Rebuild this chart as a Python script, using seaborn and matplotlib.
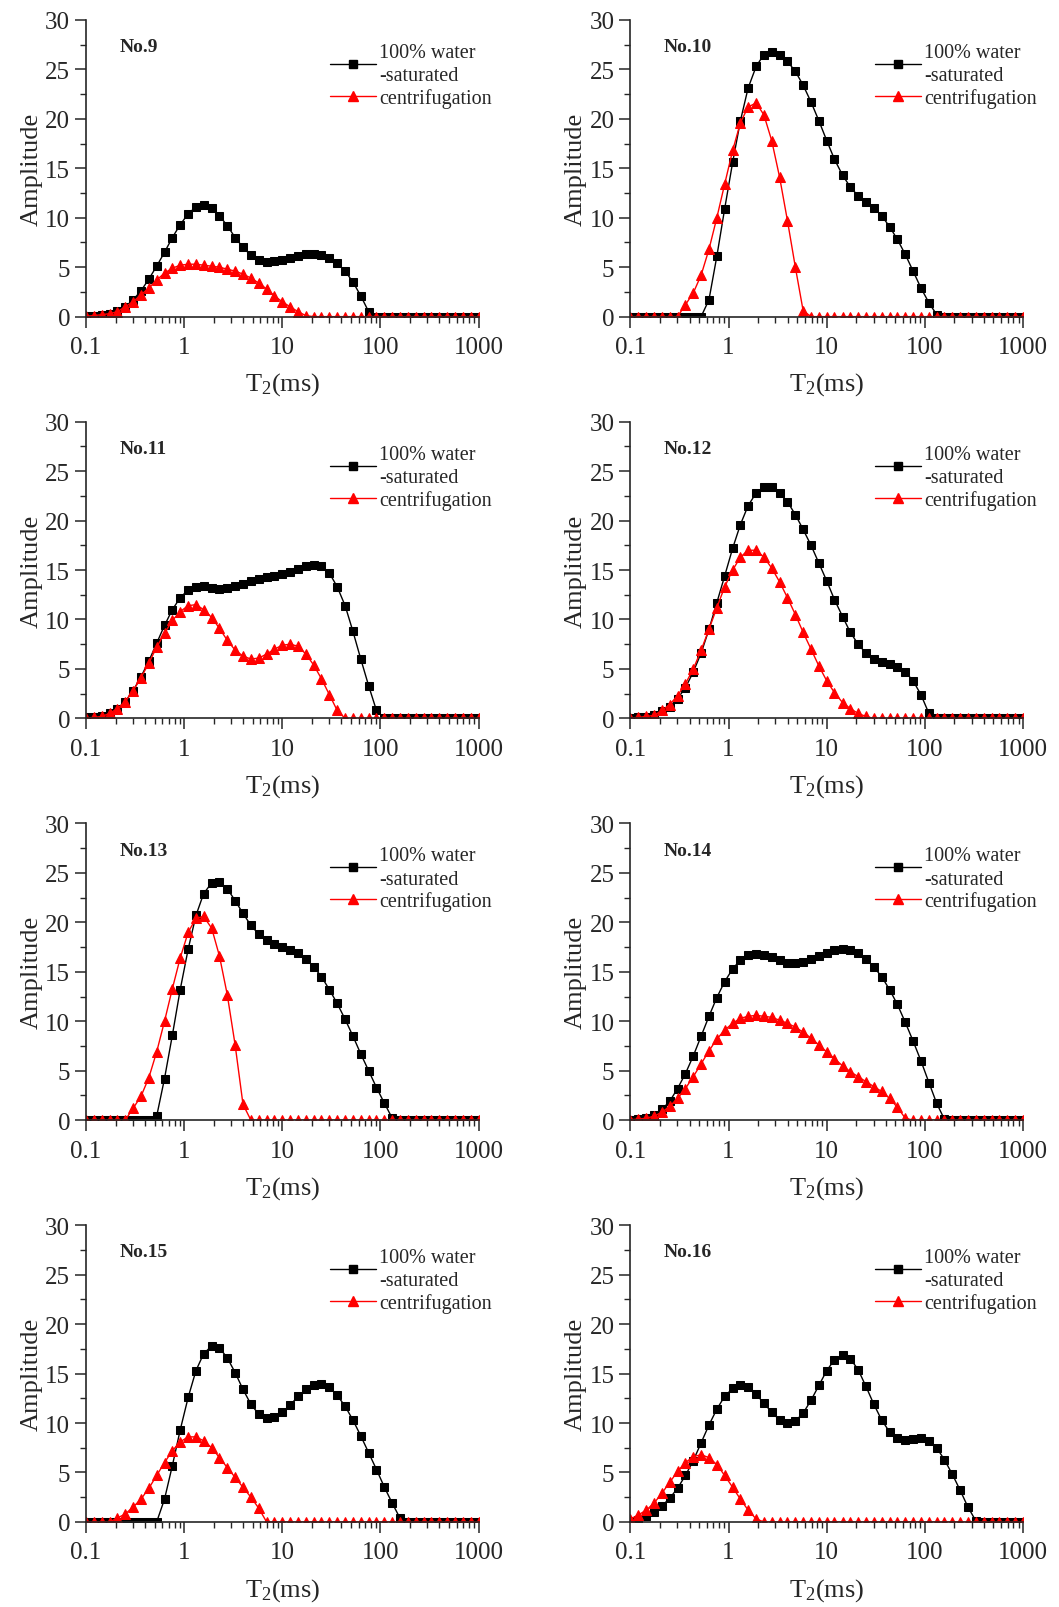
import numpy as np
import pandas as pd
import matplotlib
matplotlib.use("Agg")
import matplotlib.pyplot as plt
import matplotlib.ticker as mticker
from matplotlib.lines import Line2D
import seaborn as sns

# T2 relaxation bins (ms)
T2 = [0.1, 0.120, 0.145, 0.174, 0.209, 0.251, 0.302, 0.363, 0.437, 0.525,
      0.631, 0.759, 0.912, 1.10, 1.32, 1.58, 1.91, 2.29, 2.75, 3.31,
      3.98, 4.79, 5.75, 6.92, 8.32, 10.0, 12.0, 14.5, 17.4, 20.9,
      25.1, 30.2, 36.3, 43.7, 52.5, 63.1, 75.9, 91.2, 110, 132,
      158, 191, 229, 275, 331, 398, 479, 575, 692, 832,
      1000]

SAMPLES = ["No.9", "No.10", "No.11", "No.12", "No.13", "No.14", "No.15", "No.16"]

water_9 = [0.1, 0.1, 0.2, 0.3, 0.6, 1.0, 1.7, 2.6, 3.8, 5.1,
           6.5, 8.0, 9.3, 10.4, 11.1, 11.3, 11.0, 10.2, 9.2, 8.0,
           7.0, 6.2, 5.7, 5.5, 5.6, 5.7, 5.9, 6.1, 6.3, 6.3,
           6.2, 5.9, 5.4, 4.6, 3.5, 2.1, 0.5, 0, 0, 0,
           0, 0, 0, 0, 0, 0, 0, 0, 0, 0,
           0]
centri_9 = [0.05, 0.1, 0.2, 0.3, 0.5, 1.0, 1.5, 2.2, 2.9, 3.7,
            4.4, 4.9, 5.2, 5.3, 5.3, 5.2, 5.1, 5.0, 4.8, 4.6,
            4.3, 3.9, 3.4, 2.8, 2.1, 1.5, 1.0, 0.5, 0.1, 0,
            0, 0, 0, 0, 0, 0, 0, 0, 0, 0,
            0, 0, 0, 0, 0, 0, 0, 0, 0, 0,
            0]

water_10 = [0, 0, 0, 0, 0, 0, 0, 0, 0, 0,
            1.7, 6.1, 10.9, 15.6, 19.8, 23.1, 25.3, 26.5, 26.8, 26.5,
            25.8, 24.8, 23.4, 21.7, 19.8, 17.8, 15.9, 14.3, 13.1, 12.2,
            11.6, 11.0, 10.2, 9.1, 7.8, 6.3, 4.6, 2.9, 1.4, 0.2,
            0, 0, 0, 0, 0, 0, 0, 0, 0, 0,
            0]
centri_10 = [0, 0, 0, 0, 0, 0, 0, 1.2, 2.4, 4.2,
             6.8, 10.0, 13.4, 16.8, 19.6, 21.2, 21.6, 20.4, 17.8, 14.1,
             9.7, 5.0, 0.6, 0, 0, 0, 0, 0, 0, 0,
             0, 0, 0, 0, 0, 0, 0, 0, 0, 0,
             0, 0, 0, 0, 0, 0, 0, 0, 0, 0,
             0]

water_11 = [0.1, 0.1, 0.2, 0.5, 1.0, 1.7, 2.8, 4.2, 5.8, 7.6,
            9.4, 11.0, 12.2, 13.0, 13.3, 13.4, 13.2, 13.1, 13.2, 13.4,
            13.6, 13.9, 14.1, 14.3, 14.4, 14.6, 14.8, 15.1, 15.4, 15.5,
            15.4, 14.7, 13.3, 11.4, 8.8, 6.0, 3.3, 0.8, 0, 0,
            0, 0, 0, 0, 0, 0, 0, 0, 0, 0,
            0]
centri_11 = [0.05, 0.1, 0.2, 0.5, 1.0, 1.7, 2.8, 4.1, 5.6, 7.2,
             8.6, 9.9, 10.8, 11.4, 11.5, 11.0, 10.2, 9.1, 7.9, 6.9,
             6.3, 6.0, 6.1, 6.5, 7.0, 7.4, 7.5, 7.3, 6.5, 5.4,
             4.0, 2.4, 0.8, 0, 0, 0, 0, 0, 0, 0,
             0, 0, 0, 0, 0, 0, 0, 0, 0, 0,
             0]

water_12 = [0.05, 0.1, 0.15, 0.3, 0.7, 1.2, 2.0, 3.1, 4.7, 6.6,
            9.0, 11.7, 14.4, 17.2, 19.6, 21.5, 22.8, 23.4, 23.4, 22.8,
            21.9, 20.6, 19.1, 17.5, 15.7, 13.9, 12.0, 10.3, 8.7, 7.5,
            6.6, 6.0, 5.7, 5.5, 5.2, 4.7, 3.8, 2.4, 0.5, 0,
            0, 0, 0, 0, 0, 0, 0, 0, 0, 0,
            0]
centri_12 = [0.05, 0.1, 0.2, 0.3, 0.8, 1.4, 2.3, 3.5, 5.0, 6.9,
             9.0, 11.2, 13.3, 15.0, 16.3, 17.0, 17.0, 16.3, 15.2, 13.8,
             12.2, 10.5, 8.7, 7.0, 5.3, 3.8, 2.6, 1.6, 1.0, 0.5,
             0.2, 0, 0, 0, 0, 0, 0, 0, 0, 0,
             0, 0, 0, 0, 0, 0, 0, 0, 0, 0,
             0]

water_13 = [0, 0, 0, 0, 0, 0, 0, 0, 0, 0.4,
            4.2, 8.6, 13.2, 17.3, 20.7, 22.9, 24.0, 24.1, 23.4, 22.2,
            20.9, 19.7, 18.8, 18.2, 17.8, 17.5, 17.2, 16.9, 16.3, 15.5,
            14.5, 13.2, 11.8, 10.2, 8.5, 6.7, 5.0, 3.3, 1.7, 0.2,
            0, 0, 0, 0, 0, 0, 0, 0, 0, 0,
            0]
centri_13 = [0, 0, 0, 0, 0, 0, 1.2, 2.4, 4.3, 6.9,
             10.0, 13.3, 16.4, 19.0, 20.4, 20.6, 19.4, 16.6, 12.7, 7.6,
             1.6, 0, 0, 0, 0, 0, 0, 0, 0, 0,
             0, 0, 0, 0, 0, 0, 0, 0, 0, 0,
             0, 0, 0, 0, 0, 0, 0, 0, 0, 0,
             0]

water_14 = [0.05, 0.1, 0.2, 0.5, 1.1, 1.9, 3.2, 4.7, 6.5, 8.5,
            10.5, 12.4, 14.0, 15.3, 16.2, 16.7, 16.8, 16.7, 16.5, 16.2,
            15.9, 15.9, 16.0, 16.3, 16.6, 16.9, 17.2, 17.3, 17.2, 16.9,
            16.3, 15.5, 14.5, 13.2, 11.7, 9.9, 8.0, 6.0, 3.8, 1.7,
            0.1, 0, 0, 0, 0, 0, 0, 0, 0, 0,
            0]
centri_14 = [0.05, 0.1, 0.2, 0.4, 0.8, 1.4, 2.2, 3.2, 4.4, 5.7,
             7.0, 8.2, 9.1, 9.8, 10.3, 10.5, 10.6, 10.5, 10.4, 10.1,
             9.8, 9.4, 8.9, 8.3, 7.6, 6.9, 6.2, 5.5, 4.9, 4.4,
             3.9, 3.4, 2.9, 2.2, 1.3, 0.2, 0, 0, 0, 0,
             0, 0, 0, 0, 0, 0, 0, 0, 0, 0,
             0]

water_15 = [0, 0, 0, 0, 0, 0, 0, 0, 0, 0,
            2.3, 5.7, 9.3, 12.6, 15.3, 17.0, 17.8, 17.6, 16.6, 15.1,
            13.4, 11.9, 10.9, 10.5, 10.6, 11.1, 11.8, 12.7, 13.4, 13.8,
            13.9, 13.6, 12.8, 11.7, 10.3, 8.7, 7.0, 5.3, 3.5, 1.9,
            0.4, 0, 0, 0, 0, 0, 0, 0, 0, 0,
            0]
centri_15 = [0, 0, 0, 0, 0.4, 0.8, 1.5, 2.3, 3.4, 4.7,
             6.0, 7.2, 8.1, 8.6, 8.6, 8.2, 7.5, 6.5, 5.5, 4.5,
             3.5, 2.5, 1.4, 0, 0, 0, 0, 0, 0, 0,
             0, 0, 0, 0, 0, 0, 0, 0, 0, 0,
             0, 0, 0, 0, 0, 0, 0, 0, 0, 0,
             0]

water_16 = [0.1, 0.2, 0.6, 1.0, 1.6, 2.4, 3.4, 4.7, 6.2, 8.0,
            9.8, 11.4, 12.7, 13.5, 13.8, 13.6, 12.9, 12.0, 11.1, 10.3,
            10.0, 10.2, 11.0, 12.3, 13.8, 15.3, 16.4, 16.9, 16.5, 15.4,
            13.7, 11.9, 10.3, 9.1, 8.5, 8.3, 8.4, 8.5, 8.2, 7.5,
            6.3, 4.8, 3.2, 1.5, 0.1, 0, 0, 0, 0, 0,
            0]
centri_16 = [0.3, 0.7, 1.2, 1.9, 2.9, 4.0, 5.1, 6.0, 6.6, 6.8,
             6.5, 5.8, 4.7, 3.5, 2.3, 1.2, 0.3, 0, 0, 0,
             0, 0, 0, 0, 0, 0, 0, 0, 0, 0,
             0, 0, 0, 0, 0, 0, 0, 0, 0, 0,
             0, 0, 0, 0, 0, 0, 0, 0, 0, 0,
             0]

WATER = [water_9, water_10, water_11, water_12, water_13, water_14, water_15, water_16]
CENTRI = [centri_9, centri_10, centri_11, centri_12, centri_13, centri_14, centri_15, centri_16]

sns.set_style("ticks")
plt.rcParams['font.family'] = ['Liberation Serif', 'DejaVu Serif']
plt.rcParams['mathtext.fontset'] = 'custom'
plt.rcParams['mathtext.rm'] = 'Liberation Serif'
plt.rcParams['mathtext.it'] = 'Liberation Serif:italic'
plt.rcParams['axes.linewidth'] = 1.2

fig, axes = plt.subplots(4, 2, figsize=(10.59, 16.08), dpi=100)
fig.subplots_adjust(left=0.0812, right=0.966, top=0.987, bottom=0.0529,
                    wspace=0.387, hspace=0.354)

for ax, name, water, centri in zip(axes.flat, SAMPLES, WATER, CENTRI):
    df = pd.DataFrame({"T2": T2, "water": water, "centri": centri})
    sns.lineplot(data=df, x="T2", y="water", ax=ax, color="black", lw=1.0,
                 marker="s", markersize=5.5, markeredgecolor="black",
                 sort=False, estimator=None)
    sns.lineplot(data=df, x="T2", y="centri", ax=ax, color="red", lw=1.0,
                 marker="^", markersize=6.5, markeredgecolor="red",
                 sort=False, estimator=None)

    ax.set_xscale("log")
    ax.set_xlim(0.1, 1000)
    ax.set_ylim(0, 30)
    ax.set_xticks([0.1, 1, 10, 100, 1000])
    ax.xaxis.set_major_formatter(mticker.FixedFormatter(["0.1", "1", "10", "100", "1000"]))
    ax.xaxis.set_minor_locator(mticker.LogLocator(base=10, subs=np.arange(2, 10), numticks=20))
    ax.xaxis.set_minor_formatter(mticker.NullFormatter())
    ax.yaxis.set_major_locator(mticker.MultipleLocator(5))
    ax.yaxis.set_minor_locator(mticker.MultipleLocator(2.5))
    ax.tick_params(which="major", direction="out", length=8, width=1.1, labelsize=18)
    ax.tick_params(axis="x", which="major", pad=6)
    ax.tick_params(which="minor", direction="out", length=4, width=1.0)
    sns.despine(ax=ax)

    ax.set_xlabel("T$_\\mathregular{2}$(ms)", fontsize=19, labelpad=9)
    ax.set_ylabel("Amplitude", fontsize=19, labelpad=2)
    ax.text(0.085, 0.91, name, transform=ax.transAxes, fontsize=14,
            fontweight="bold", va="center")

    handles = [
        Line2D([], [], color="black", lw=1.0, marker="s", markersize=5.5),
        Line2D([], [], color="red", lw=1.0, marker="^", markersize=6.5),
    ]
    leg = ax.legend(handles, ["100% water\n-saturated", "centrifugation"],
                    loc="upper right", bbox_to_anchor=(1.055, 0.95), frameon=False,
                    fontsize=14.5, handlelength=2.3, handletextpad=0.15,
                    labelspacing=0.15, borderaxespad=0.0)
    for t in leg.get_texts():
        t.set_linespacing(1.3)

fig.savefig("out.png", dpi=100)
